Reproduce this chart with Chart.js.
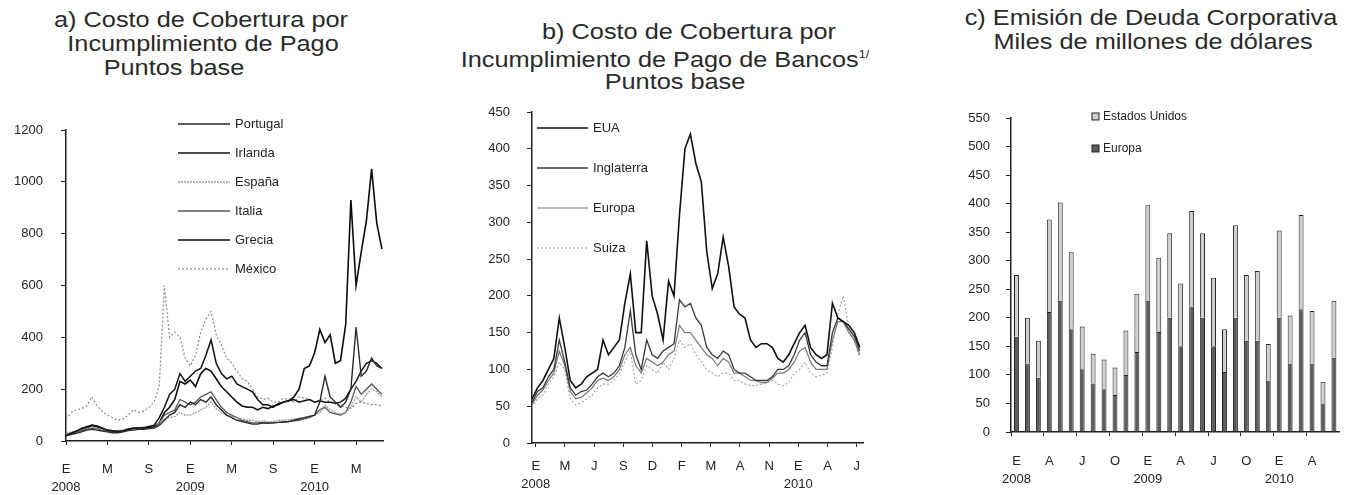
<!DOCTYPE html>
<html>
<head>
<meta charset="utf-8">
<script src="https://cdn.jsdelivr.net/npm/chart.js@4.4.1/dist/chart.umd.min.js"></script>
<style>
  body { margin: 0; background: #fff; width: 1351px; height: 495px; overflow: hidden; position: relative;
         font-family: "Liberation Sans", Arial, sans-serif; color: #222; }
  .box { position: absolute; top: 0; height: 495px; }
  .ttl { position: absolute; white-space: nowrap; font-size: 22px; line-height: 24px; color: #2a2a2a;
         transform: translate(-50%, -50%) scaleX(1.15); }
  .ttl sup { font-size: 11px; vertical-align: 9px; }
</style>
</head>
<body>
<div class="ttl" style="left:201px;top:20px">a) Costo de Cobertura por</div>
<div class="ttl" style="left:203px;top:44px">Incumplimiento de Pago</div>
<div class="ttl" style="left:174px;top:68px">Puntos base</div>

<div class="ttl" style="left:689px;top:32px">b) Costo de Cobertura por</div>
<div class="ttl" style="left:665px;top:57px">Incumplimiento de Pago de Bancos<sup>1/</sup></div>
<div class="ttl" style="left:675px;top:82px">Puntos base</div>

<div class="ttl" style="left:1151px;top:18px">c) Emisión de Deuda Corporativa</div>
<div class="ttl" style="left:1153px;top:42px">Miles de millones de dólares</div>

<div class="box" style="left:0;width:450px"><canvas id="chartA"></canvas></div>
<div class="box" style="left:450px;width:430px"><canvas id="chartB"></canvas></div>
<div class="box" style="left:940px;width:411px"><canvas id="chartC"></canvas></div>

<script>
//DATA - panel a, semi-monthly points from Jan 2008
const portugal = [20,25,30,35,42,45,42,38,35,32,32,35,40,42,45,45,48,50,60,80,100,110,140,130,150,140,160,150,170,140,120,100,90,80,75,70,65,65,70,68,70,72,72,75,80,85,90,95,100,150,250,170,150,130,150,200,440,250,270,320,290,280];
const irlanda = [20,30,38,48,55,62,58,50,42,40,38,40,45,50,50,50,55,60,90,130,180,200,260,230,250,270,280,330,390,300,260,240,250,220,210,200,190,160,140,140,130,145,150,155,160,150,155,160,150,155,150,150,145,150,165,200,230,270,300,310,300,280];
const espana = [30,35,40,45,48,52,50,45,42,40,40,42,48,50,52,55,58,62,70,85,90,95,110,100,100,110,120,130,150,125,110,100,95,90,85,80,80,75,78,75,75,80,80,82,85,88,90,95,100,110,140,120,110,105,110,130,170,150,180,200,190,170];
const italia = [25,30,35,40,45,50,48,42,38,35,35,38,45,48,50,52,55,58,70,100,110,120,160,150,140,150,170,180,190,160,130,110,100,90,80,75,70,70,72,70,70,72,75,75,78,80,85,90,100,120,130,110,105,100,110,150,210,180,200,220,200,180];
const grecia = [22,30,38,45,50,60,55,48,40,38,35,38,45,48,50,50,52,55,70,110,130,160,230,220,235,210,260,280,270,240,210,190,170,150,135,130,130,120,130,125,135,140,150,155,170,200,280,290,340,430,380,410,300,310,450,930,600,730,850,1050,840,740];
const mexico = [85,110,120,125,135,170,135,115,100,90,80,85,100,120,110,115,130,150,210,600,400,420,400,320,290,330,420,470,500,410,370,320,300,270,240,230,200,170,160,165,150,150,165,160,150,170,165,160,150,160,165,150,150,135,130,125,145,150,145,140,140,135];
const ticksA = ["E", "M", "S", "E", "M", "S", "E", "M"];
const yearsA = ["2008", "", "", "2009", "", "", "2010", ""];

//DATA - panel b, semi-monthly points from Jan 2008
const eua = [60,75,85,100,115,170,130,85,75,80,90,95,100,140,120,130,140,190,230,150,150,275,200,175,140,220,200,310,400,420,380,355,260,210,230,280,240,185,175,170,140,130,135,135,130,115,110,120,135,150,160,130,120,115,120,190,170,165,160,150,130];
const inglaterra = [55,70,75,90,100,140,110,75,65,70,72,80,90,95,90,95,105,130,180,120,100,140,120,115,125,130,135,195,185,190,170,160,130,120,115,125,120,100,95,95,90,85,85,85,90,100,100,105,120,140,150,120,110,105,105,150,170,165,155,145,125];
const europa = [52,65,72,85,95,125,105,70,60,62,68,75,85,88,85,90,100,120,130,105,95,115,110,105,110,120,125,160,150,150,140,130,120,115,105,115,110,95,95,90,85,85,82,82,88,95,95,100,110,125,130,110,100,100,100,140,165,165,150,140,120];
const suiza = [48,60,65,80,90,110,100,60,52,55,60,65,75,80,80,85,95,110,125,80,85,105,100,95,110,100,115,140,130,135,120,110,100,95,90,95,95,85,85,80,78,78,80,82,85,80,78,82,95,100,110,95,90,92,95,130,175,200,155,140,115];
const ticksB = ["E", "M", "J", "S", "D", "F", "M", "A", "N", "E", "A", "J"];
const yearsB = ["2008", "", "", "", "", "", "", "", "", "2010", "", ""];

//DATA - panel c, monthly Jan 2008 - Jun 2010
const mesesC = ["E","F","M","A","M","J","J","A","S","O","N","D","E","F","M","A","M","J","J","A","S","O","N","D","E","F","M","A","M","J"];
const aniosC = {0: "2008", 12: "2009", 24: "2010"};
const emisionEuropa = [167,120,95,210,230,180,110,85,75,65,100,140,230,175,200,150,220,200,150,105,200,160,160,90,200,120,215,120,50,130];
const emisionEU = [108,80,65,162,172,135,75,52,52,48,78,102,167,130,148,110,167,148,120,75,162,115,122,64,153,84,165,92,38,100];

Chart.defaults.font.family = "'Liberation Sans', Arial, sans-serif";
Chart.defaults.color = "#222";
Chart.defaults.animation = false;

const STEP = 0.5; // half a month between points
const toPts = (arr) => arr.map((v, i) => ({ x: i * STEP, y: v }));

// legend drawn inside the plot, like the original
const sideLegend = {
  id: "sideLegend",
  afterDraw(chart, args, opts) {
    const ctx = chart.ctx;
    const ds = chart.data.datasets;
    ctx.save();
    ctx.font = opts.font;
    ctx.textBaseline = "middle";
    opts.order.forEach((k, i) => {
      const d = ds[k];
      const y = opts.y + i * opts.gap;
      if (opts.box) {
        ctx.fillStyle = d.backgroundColor;
        ctx.strokeStyle = "#222";
        ctx.lineWidth = 1;
        ctx.fillRect(opts.x, y - 4, 7, 7);
        ctx.strokeRect(opts.x, y - 4, 7, 7);
        ctx.fillStyle = "#222";
        ctx.fillText(d.label, opts.x + 11, y);
      } else {
        ctx.strokeStyle = d.borderColor;
        ctx.lineWidth = d.borderWidth;
        ctx.setLineDash(d.borderDash || []);
        ctx.beginPath();
        ctx.moveTo(opts.x, y);
        ctx.lineTo(opts.x + opts.len, y);
        ctx.stroke();
        ctx.setLineDash([]);
        ctx.fillStyle = "#222";
        ctx.fillText(d.label, opts.x + opts.len + 5, y);
      }
    });
    ctx.restore();
  },
};

function lineSet(label, arr, color, width, dash) {
  return { label, data: toPts(arr), borderColor: color, borderWidth: width, borderDash: dash,
           pointRadius: 0, tension: 0, fill: false };
}

function yAxis(max, step, width, pad) {
  return {
    min: 0, max: max,
    ticks: { stepSize: step, padding: pad, font: { size: 13 }, callback: (v) => String(v) },
    grid: { drawOnChartArea: false, tickLength: 5, color: "#222" },
    border: { color: "#222", width: 1.5 },
    afterFit: (s) => { s.width = width; },
  };
}

function xAxisLinear(max, positions, labels, years, height, pad) {
  return {
    type: "linear", min: 0, max: max,
    afterBuildTicks: (s) => { s.ticks = positions.map((v) => ({ value: v })); },
    ticks: {
      autoSkip: false, maxRotation: 0, padding: pad,
      font: { size: 13, lineHeight: 1.35 },
      callback: (v, i) => (years[i] ? [labels[i], years[i]] : labels[i]),
    },
    grid: { drawOnChartArea: false, tickLength: 4, color: "#222" },
    border: { color: "#222", width: 1.5 },
    afterFit: (s) => { s.height = height; },
  };
}

//panel a
const posA = ticksA.map((_, i) => i * 4);
new Chart(document.getElementById("chartA"), {
  type: "line",
  data: {
    datasets: [
      lineSet("Portugal", portugal, "#2a2a2a", 1.4),
      lineSet("Irlanda", irlanda, "#111", 1.5),
      lineSet("España", espana, "#9c9c9c", 1.3, [2, 1]),
      lineSet("Italia", italia, "#555", 1.3),
      lineSet("Grecia", grecia, "#0c0c0c", 1.6),
      lineSet("México", mexico, "#8a8a8a", 1.2, [2, 2]),
    ],
  },
  options: {
    responsive: true, maintainAspectRatio: false,
    layout: { padding: { top: 130, right: 67, bottom: 0, left: 0 } },
    plugins: {
      legend: { display: false }, tooltip: { enabled: false },
      sideLegend: { x: 178, y: 124, gap: 29, len: 52, font: "13px 'Liberation Sans', Arial", order: [0, 1, 2, 3, 4, 5] },
    },
    scales: {
      x: xAxisLinear(30.6, posA, ticksA, yearsA, 54, 16),
      y: yAxis(1200, 200, 66, 18),
    },
  },
  plugins: [sideLegend],
});

//panel b
const posB = ticksB.map((_, i) => 0.35 + i * 2.67);
new Chart(document.getElementById("chartB"), {
  type: "line",
  data: {
    datasets: [
      lineSet("EUA", eua, "#111", 1.6),
      lineSet("Inglaterra", inglaterra, "#3a3a3a", 1.3),
      lineSet("Europa", europa, "#777", 1.2),
      lineSet("Suiza", suiza, "#a8a8a8", 1.2, [2, 2]),
    ],
  },
  options: {
    responsive: true, maintainAspectRatio: false,
    layout: { padding: { top: 112, right: 17, bottom: 0, left: 0 } },
    plugins: {
      legend: { display: false }, tooltip: { enabled: false },
      sideLegend: { x: 87, y: 128, gap: 40, len: 51, font: "13px 'Liberation Sans', Arial", order: [0, 1, 2, 3] },
    },
    scales: {
      x: xAxisLinear(30.3, posB, ticksB, yearsB, 52, 11),
      y: yAxis(450, 50, 82, 17),
    },
  },
  plugins: [sideLegend],
});

//panel c
new Chart(document.getElementById("chartC"), {
  type: "bar",
  data: {
    labels: mesesC,
    datasets: [
      { label: "Europa", data: emisionEuropa, backgroundColor: "#5c5c5c", borderColor: "#222", borderWidth: 1 },
      { label: "Estados Unidos", data: emisionEU, backgroundColor: "#cfcfcf", borderColor: "#222", borderWidth: 1 },
    ],
  },
  options: {
    responsive: true, maintainAspectRatio: false,
    layout: { padding: { top: 118, right: 4, bottom: 0, left: 0 } },
    datasets: { bar: { barPercentage: 0.5, categoryPercentage: 0.9 } },
    plugins: {
      legend: { display: false }, tooltip: { enabled: false },
      sideLegend: { box: true, x: 152, y: 117, gap: 32, font: "12px 'Liberation Sans', Arial", order: [1, 0] },
    },
    scales: {
      x: {
        stacked: true,
        ticks: {
          autoSkip: false, maxRotation: 0, padding: 17,
          font: { size: 13, lineHeight: 1.35 },
          callback: (v, i) => (i % 3 ? "" : aniosC[i] ? [mesesC[i], aniosC[i]] : mesesC[i]),
        },
        grid: { drawOnChartArea: false, tickLength: 4, color: (c) => (c.index % 3 === 0 ? "#222" : "rgba(0,0,0,0)") },
        border: { color: "#222", width: 1.5 },
        afterFit: (s) => { s.height = 63; },
      },
      y: Object.assign(yAxis(550, 50, 71, 16), { stacked: true }),
    },
  },
  plugins: [sideLegend],
});
</script>
</body>
</html>
